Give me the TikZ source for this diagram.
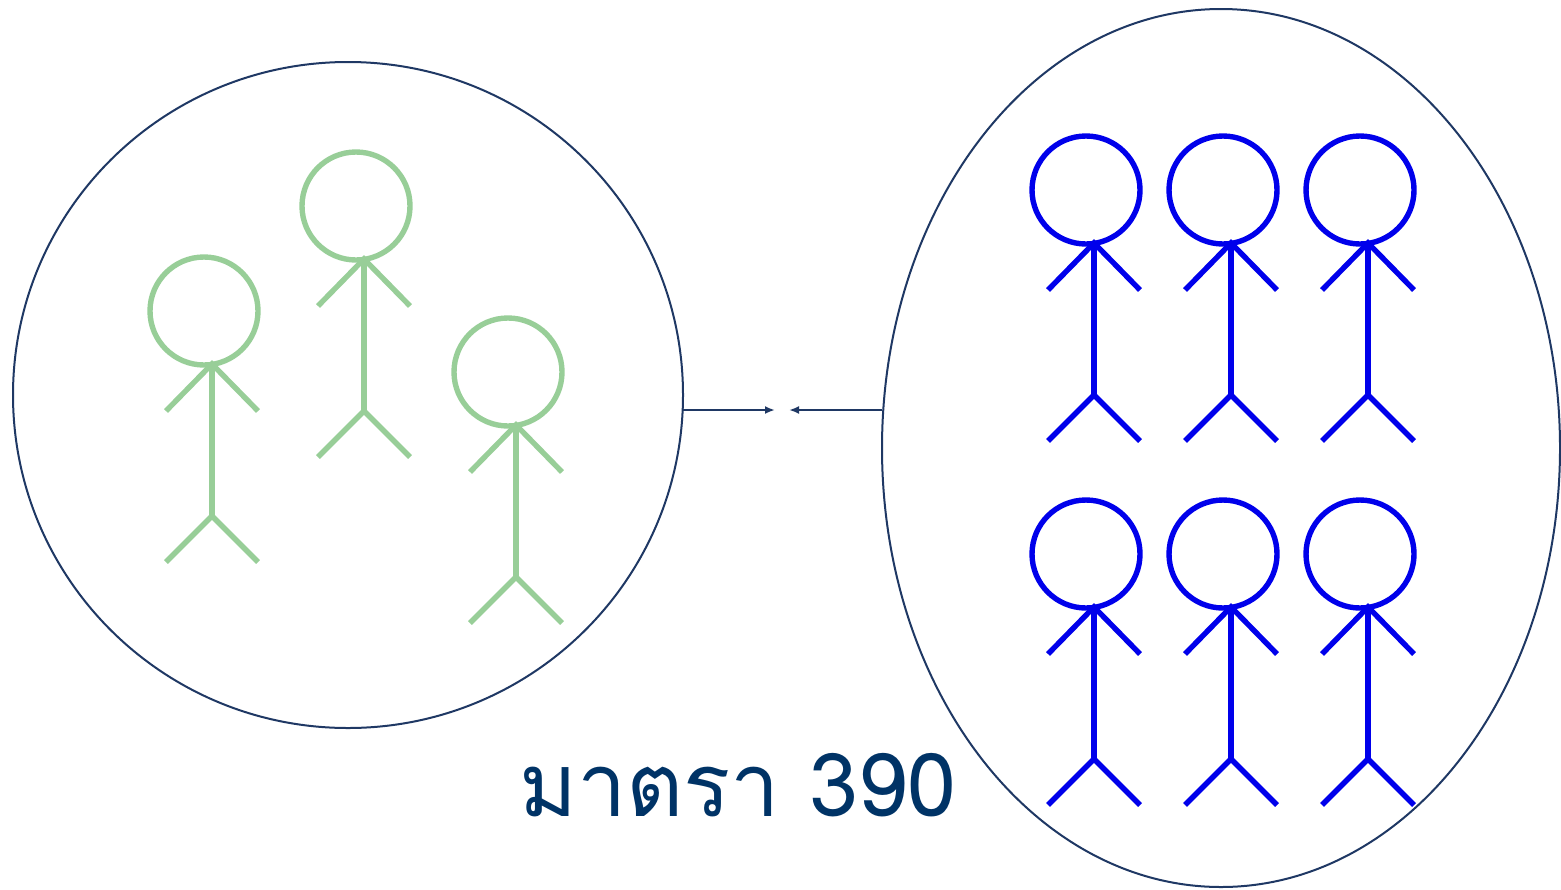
\documentclass[tikz,border=0pt]{standalone}
\usepackage{fontspec}
\newfontfamily\thaifont[Script=Thai]{Loma}
\usetikzlibrary{arrows.meta,shapes.geometric}
\definecolor{navy}{RGB}{31,56,100}
\definecolor{textblue}{RGB}{0,51,102}
\definecolor{softgreen}{RGB}{152,206,152}
\definecolor{figblue}{RGB}{0,0,235}
\tikzset{
  x=0.5pt, y=-0.5pt,
  stick/.pic={
    \draw[pic actions] (0,0) circle[radius=54*0.5pt];
    \draw[pic actions] (8,53) -- (8,205);
    \draw[pic actions] (-38,100) -- (8,53) -- (54,100);
    \draw[pic actions] (-38,251) -- (8,205) -- (54,251);
  },
  greenfig/.style={draw=softgreen, line width=2.7pt},
  bluefig/.style={draw=figblue, line width=2.7pt},
  outline/.style={draw=navy, line width=1pt},
  link/.style={draw=navy, line width=1pt, -{Latex[length=5pt,width=4pt]}},
}
\begin{document}
\begin{tikzpicture}
\useasboundingbox (0,0) rectangle (1561,889);
% big outlines
\draw[outline] (348,395) ellipse[x radius=335*0.5pt, y radius=333*0.5pt];
\draw[outline] (1221,448) ellipse[x radius=339*0.5pt, y radius=439*0.5pt];
% connectors
\coordinate (lout) at (683,410);
\coordinate (lend) at (775,410);
\coordinate (rout) at (882,410);
\coordinate (rend) at (789,410);
\draw[link] (lout) -- (lend);
\draw[link] (rout) -- (rend);
% green figures
\pic[greenfig] at (204,311) {stick};
\pic[greenfig] at (356,206) {stick};
\pic[greenfig] at (508,372) {stick};
% blue figures
\foreach \cx in {1086,1223,1360}{
  \pic[bluefig] at (\cx,190) {stick};
  \pic[bluefig] at (\cx,554) {stick};
}
% label
\node[text=textblue, font=\thaifont\fontsize{44}{49}\selectfont] (label) at (738,785) {มาตรา 390};
\end{tikzpicture}
\end{document}
